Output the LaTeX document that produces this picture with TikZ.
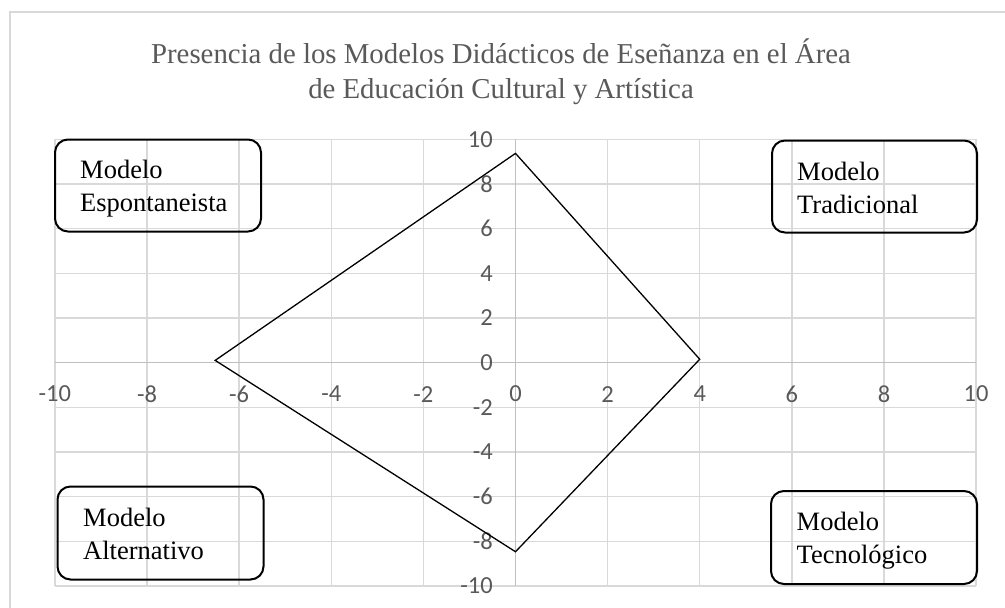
\documentclass[tikz,border=0pt]{standalone}
\usepackage{fontspec}
\setmainfont{Liberation Serif}
\newfontfamily\tickfont{Carlito}
\definecolor{txtgray}{HTML}{595959}
\definecolor{gridgray}{HTML}{D9D9D9}
\definecolor{axisgray}{HTML}{BFBFBF}
\definecolor{framegray}{HTML}{D9D9D9}
\tikzset{
  gridline/.style={draw=gridgray, line width=1.3pt},
  axisline/.style={draw=axisgray, line width=1.4pt},
  ticklab/.style={text=txtgray, font=\tickfont\fontsize{24.5}{28}\selectfont, inner sep=0pt},
  titlelab/.style={text=txtgray, font=\fontsize{28.8}{34}\selectfont, inner sep=0pt, anchor=base},
  modelbox/.style={draw=black, line width=2pt, rounded corners=13pt, anchor=north west, inner sep=0pt},
  modeltext/.style={align=left, font=\fontsize{26.5}{33}\selectfont, inner sep=0pt, anchor=base west},
  datapath/.style={draw=black, line width=1.3pt, line join=miter}
}
\begin{document}
\begin{tikzpicture}[x=1pt,y=1pt]
\useasboundingbox (0,0) rectangle (1005,-608);
\clip (0,0) rectangle (1005,-608);
\fill[white] (0,0) rectangle (1005,-608);
\draw[framegray, line width=1.5pt] (10,-12) rectangle (1020,-620);
% title
\node[titlelab] (t1) at (501,-63) {Presencia de los Modelos Didácticos de Eseñanza en el Área};
\node[titlelab] (t2) at (501,-98) {de Educación Cultural y Artística};
% plot
\begin{scope}[shift={(515.5pt,-362.6pt)}, x=46.06pt, y=22.33pt]
  \foreach \v in {-10,-8,...,10} {
    \draw[gridline] (\v,-10) -- (\v,10);
    \draw[gridline] (-10,\v) -- (10,\v);
  }
  \draw[axisline] (0,-10) -- (0,10);
  \draw[axisline] (-10,0) -- (10,0);
  \foreach \v [count=\i] in {-10,-8,...,10} {
    \node[ticklab, anchor=center] (xl\i) at (\v,-1.41) {\v};
    \node[ticklab, anchor=east] (yl\i) at (-0.49,\v) {\v};
  }
  \coordinate (ptop) at (0,9.37);
  \coordinate (pright) at (4.0,0.15);
  \coordinate (pbot) at (0,-8.47);
  \coordinate (pleft) at (-6.52,0.1);
  \draw[datapath] (ptop) -- (pright) -- (pbot) -- (pleft) -- cycle;
\end{scope}
% boxes
\node[modelbox, minimum width=206pt, minimum height=92pt] (esp) at (54,-138.5) {};
\node[modeltext] (esptxt) at ([xshift=26pt,yshift=-73pt]esp.north west) {Modelo\\Espontaneista};
\node[modelbox, minimum width=205pt, minimum height=92pt] (tra) at (771,-139.5) {};
\node[modeltext] (tratxt) at ([xshift=26pt,yshift=-73.5pt]tra.north west) {Modelo\\Tradicional};
\node[modelbox, minimum width=206pt, minimum height=93pt] (alt) at (56.5,-485.5) {};
\node[modeltext] (alttxt) at ([xshift=26.5pt,yshift=-74pt]alt.north west) {Modelo\\Alternativo};
\node[modelbox, minimum width=206pt, minimum height=93pt] (tec) at (770,-490) {};
\node[modeltext] (tectxt) at ([xshift=26.5pt,yshift=-73pt]tec.north west) {Modelo\\Tecnológico};
\end{tikzpicture}
\end{document}
